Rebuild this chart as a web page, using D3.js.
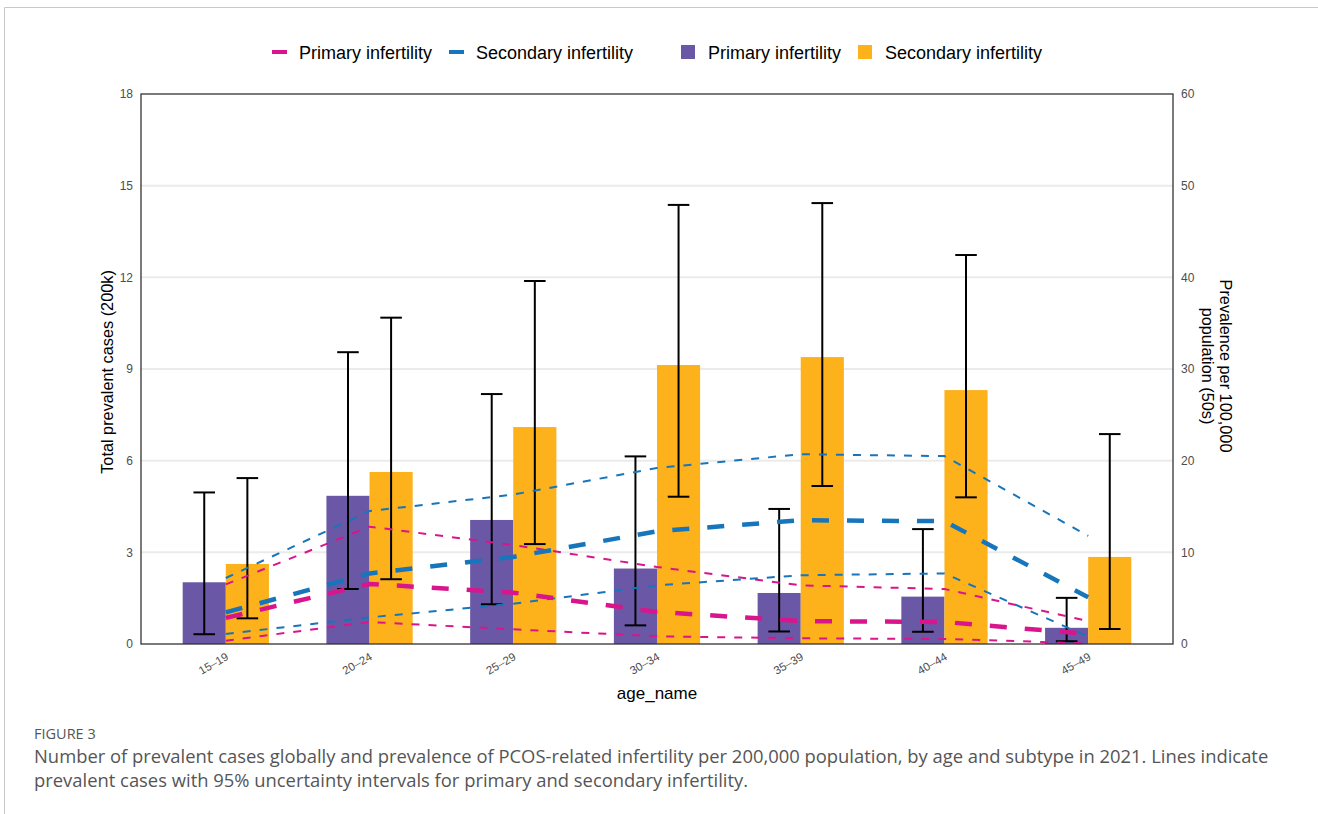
<!DOCTYPE html>
<html>
<head>
<meta charset="utf-8">
<script src="https://cdn.jsdelivr.net/npm/d3@7"></script>
<style>
  html, body { margin: 0; padding: 0; background: #fff; }
  svg { display: block; }
</style>
</head>
<body>
<svg id="chart" width="1318" height="814"></svg>
<script>
// Age groups
const ageGroups = ["15\u201319", "20\u201324", "25\u201329", "30\u201334", "35\u201339", "40\u201344", "45\u201349"];

// Total prevalent cases (units of 200k), bars with 95% UI
const primaryCases   = [2.02, 4.85, 4.06, 2.47, 1.67, 1.55, 0.53];
const primaryLow     = [0.32, 1.80, 1.30, 0.61, 0.41, 0.40, 0.09];
const primaryHigh    = [4.96, 9.55, 8.18, 6.14, 4.42, 3.76, 1.51];
const secondaryCases = [2.62, 5.63, 7.10, 9.13, 9.39, 8.31, 2.85];
const secondaryLow   = [0.84, 2.12, 3.27, 4.82, 5.17, 4.80, 0.49];
const secondaryHigh  = [5.43, 10.68, 11.88, 14.37, 14.43, 12.73, 6.87];

// Prevalence per 100,000 population (right axis), with 95% UI
const primaryRate      = [2.85, 6.55, 5.6, 3.5, 2.5, 2.4, 1.1];
const primaryRateLow   = [0.36, 2.4, 1.6, 0.84, 0.62, 0.55, 0.07];
const primaryRateHigh  = [6.5, 12.8, 10.8, 8.4, 6.4, 6.0, 2.5];
const secondaryRate     = [3.45, 7.7, 9.5, 12.3, 13.5, 13.4, 5.1];
const secondaryRateLow  = [1.1, 2.9, 4.4, 6.4, 7.5, 7.7, 0.8];
const secondaryRateHigh = [7.2, 14.5, 16.3, 19.2, 20.7, 20.5, 11.8];

const leftTicks = [0, 3, 6, 9, 12, 15, 18];
const rightTicks = [0, 10, 20, 30, 40, 50, 60];

const colPrimaryBar = "#6A58A6";
const colSecondaryBar = "#FDB11B";
const colPrimaryLine = "#D8158C";
const colSecondaryLine = "#1675BB";

const svg = d3.select("#chart");
const W = 1318, H = 814;

// outer figure frame
svg.append("path")
  .attr("d", `M4.5,${H} V7.5 H${W}`)
  .attr("fill", "none").attr("stroke", "#c8c8c8").attr("stroke-width", 1);

const m = { left: 141, right: 1173, top: 94, bottom: 644 };

const x = d3.scalePoint().domain(ageGroups).range([m.left, m.right]).padding(0.59);
const yL = d3.scaleLinear().domain([0, 18]).range([m.bottom, m.top]);
const yR = d3.scaleLinear().domain([0, 60]).range([m.bottom, m.top]);
const bandW = x.step() * 0.6;
const barW = bandW / 2;

// gridlines
svg.append("g").selectAll("line")
  .data(leftTicks.filter(t => t > 0 && t < 18))
  .join("line")
  .attr("x1", m.left).attr("x2", m.right)
  .attr("y1", d => yL(d)).attr("y2", d => yL(d))
  .attr("stroke", "#EBEBEB").attr("stroke-width", 2);

// bars
const barData = [];
ageGroups.forEach((g, i) => {
  barData.push({ g, k: 0, v: primaryCases[i], lo: primaryLow[i], hi: primaryHigh[i] });
  barData.push({ g, k: 1, v: secondaryCases[i], lo: secondaryLow[i], hi: secondaryHigh[i] });
});
const barX = d => x(d.g) - bandW / 2 + d.k * barW;

svg.append("g").selectAll("rect")
  .data(barData)
  .join("rect")
  .attr("x", barX)
  .attr("width", barW)
  .attr("y", d => yL(d.v))
  .attr("height", d => yL(0) - yL(d.v))
  .attr("fill", d => d.k === 0 ? colPrimaryBar : colSecondaryBar);

// error bars
const capW = barW * 0.5;
const eb = svg.append("g").attr("stroke", "#000").attr("stroke-width", 2).attr("fill", "none");
barData.forEach(d => {
  const cx = barX(d) + barW / 2;
  eb.append("line").attr("x1", cx).attr("x2", cx).attr("y1", yL(d.lo)).attr("y2", yL(d.hi));
  eb.append("line").attr("x1", cx - capW / 2).attr("x2", cx + capW / 2).attr("y1", yL(d.lo)).attr("y2", yL(d.lo));
  eb.append("line").attr("x1", cx - capW / 2).attr("x2", cx + capW / 2).attr("y1", yL(d.hi)).attr("y2", yL(d.hi));
});

// prevalence lines (right axis)
const line = d3.line().x(d => x(d[0])).y(d => yR(d[1]));
const series = [
  { vals: primaryRateLow, col: colPrimaryLine, w: 2, dash: "8,9" },
  { vals: primaryRateHigh, col: colPrimaryLine, w: 2, dash: "8,9" },
  { vals: secondaryRateLow, col: colSecondaryLine, w: 2, dash: "8,9" },
  { vals: secondaryRateHigh, col: colSecondaryLine, w: 2, dash: "8,9" },
  { vals: primaryRate, col: colPrimaryLine, w: 4.5, dash: "17,18" },
  { vals: secondaryRate, col: colSecondaryLine, w: 4.5, dash: "17,18" }
];
svg.append("g").selectAll("path")
  .data(series)
  .join("path")
  .attr("d", s => line(ageGroups.map((g, i) => [g, s.vals[i]])))
  .attr("fill", "none")
  .attr("stroke", s => s.col)
  .attr("stroke-width", s => s.w)
  .attr("stroke-dasharray", s => s.dash);

// panel border
svg.append("rect")
  .attr("x", m.left).attr("y", m.top)
  .attr("width", m.right - m.left).attr("height", m.bottom - m.top)
  .attr("fill", "none").attr("stroke", "#333").attr("stroke-width", 1.3);

const fontAx = "'Liberation Sans', Arial, sans-serif";

// left axis
const gL = svg.append("g").attr("transform", `translate(${m.left},0)`)
  .call(d3.axisLeft(yL).tickValues(leftTicks).tickSize(0).tickPadding(8));
gL.select(".domain").remove();
gL.selectAll("text").attr("fill", "#4D4D4D").style("font", `12px ${fontAx}`);

// right axis
const gR = svg.append("g").attr("transform", `translate(${m.right},0)`)
  .call(d3.axisRight(yR).tickValues(rightTicks).tickSize(0).tickPadding(8));
gR.select(".domain").remove();
gR.selectAll("text").attr("fill", "#4D4D4D").style("font", `12px ${fontAx}`);

// bottom axis
const gB = svg.append("g").attr("transform", `translate(0,${m.bottom})`)
  .call(d3.axisBottom(x).tickSize(0).tickPadding(0));
gB.select(".domain").remove();
gB.selectAll("text")
  .attr("fill", "#4D4D4D").style("font", `11.5px ${fontAx}`)
  .attr("text-anchor", "end")
  .attr("dy", null).attr("y", 0)
  .attr("transform", "translate(3,15) rotate(-30)");

// axis titles
svg.append("text")
  .attr("transform", `translate(113,372) rotate(-90)`)
  .attr("text-anchor", "middle")
  .style("font", `16.3px ${fontAx}`).attr("fill", "#000")
  .text("Total prevalent cases (200k)");

const rt = svg.append("text")
  .attr("transform", `translate(1212,366) rotate(90)`)
  .attr("text-anchor", "middle")
  .style("font", `16.3px ${fontAx}`).attr("fill", "#000");
rt.append("tspan").attr("x", 0).attr("y", -8).text("Prevalence per 100,000");
rt.append("tspan").attr("x", 0).attr("y", 10).text("population (50s)");

svg.append("text")
  .attr("x", 657).attr("y", 699)
  .attr("text-anchor", "middle")
  .style("font", `17px ${fontAx}`).attr("fill", "#000")
  .text("age_name");

// legend
const leg = svg.append("g").style("font", `18px ${fontAx}`);
const legItems = [
  { type: "line", col: colPrimaryLine, x: 272, label: "Primary infertility" },
  { type: "line", col: colSecondaryLine, x: 449, label: "Secondary infertility" },
  { type: "box", col: colPrimaryBar, x: 681, label: "Primary infertility" },
  { type: "box", col: colSecondaryBar, x: 858, label: "Secondary infertility" }
];
legItems.forEach(it => {
  if (it.type === "line") {
    leg.append("line").attr("x1", it.x).attr("x2", it.x + 15).attr("y1", 52).attr("y2", 52)
      .attr("stroke", it.col).attr("stroke-width", 4);
  } else {
    leg.append("rect").attr("x", it.x).attr("y", 45).attr("width", 14).attr("height", 14).attr("fill", it.col);
  }
  leg.append("text").attr("x", it.x + 27).attr("y", 59).attr("fill", "#000").text(it.label);
});

// caption
const fontCap = "'Open Sans', sans-serif";
svg.append("text")
  .attr("x", 34).attr("y", 739)
  .style("font", `14.5px ${fontCap}`).attr("fill", "#555")
  .text("FIGURE 3");
svg.append("text")
  .attr("x", 34).attr("y", 763)
  .style("font", `18.4px ${fontCap}`).attr("fill", "#555")
  .text("Number of prevalent cases globally and prevalence of PCOS-related infertility per 200,000 population, by age and subtype in 2021. Lines indicate");
svg.append("text")
  .attr("x", 34).attr("y", 787)
  .style("font", `18.4px ${fontCap}`).attr("fill", "#555")
  .text("prevalent cases with 95% uncertainty intervals for primary and secondary infertility.");
</script>
</body>
</html>
